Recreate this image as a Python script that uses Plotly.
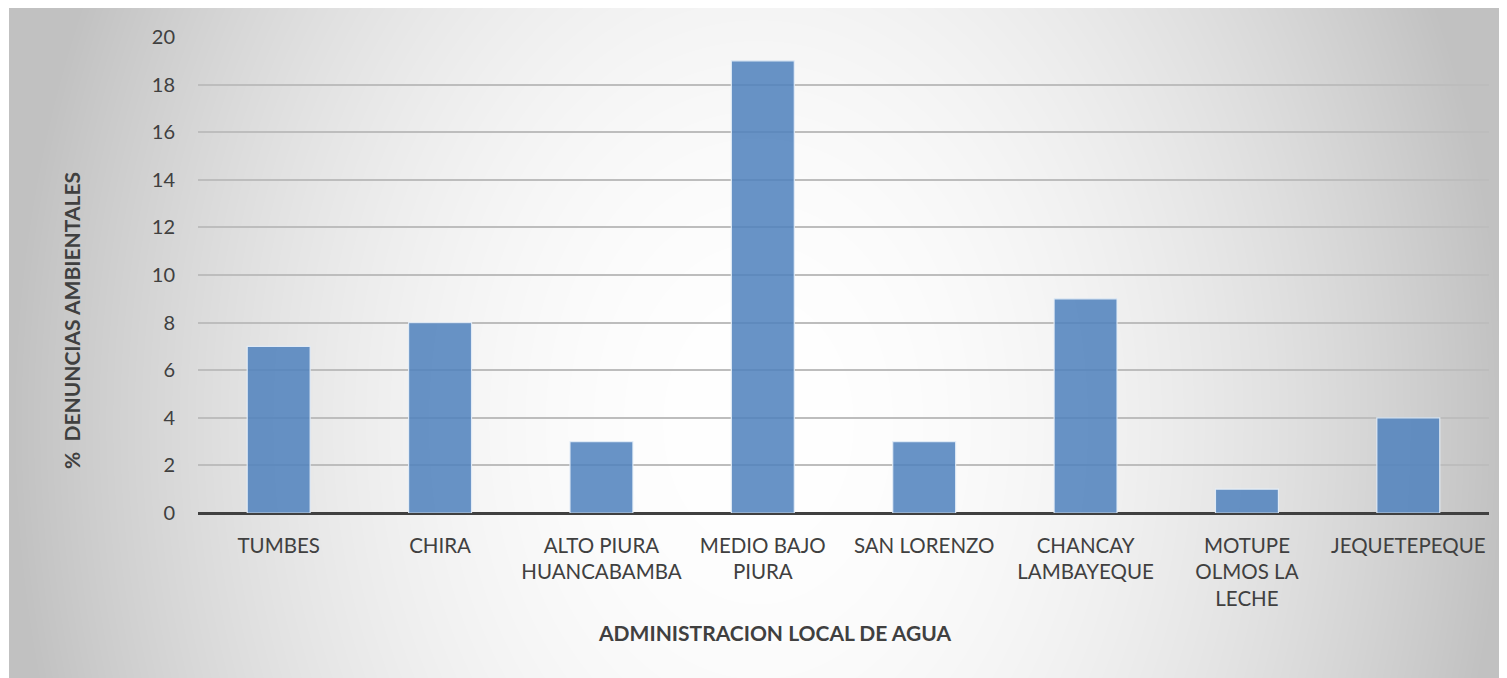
import base64
import struct
import zlib

import numpy as np
import plotly.graph_objects as go

# ---- data ----
categories = [
    "TUMBES",
    "CHIRA",
    "ALTO PIURA<br>HUANCABAMBA",
    "MEDIO BAJO<br>PIURA",
    "SAN LORENZO",
    "CHANCAY<br>LAMBAYEQUE",
    "MOTUPE<br>OLMOS LA<br>LECHE",
    "JEQUETEPEQUE",
]
values = [7, 8, 3, 19, 3, 9, 1, 4]
y_ticks = [0, 2, 4, 6, 8, 10, 12, 14, 16, 18, 20]

x_title = "ADMINISTRACION LOCAL DE AGUA"
y_title = "%  DENUNCIAS AMBIENTALES"

# ---- layout geometry (screen pixels; page has an 8px body margin) ----
OFF = 8
W, H = 1507 - OFF, 678 - OFF
# plot area on screen: x 198..1489, y 37..513
L = 198 - OFF
T = 37 - OFF
R = W - (1489 - OFF)
B = H - (513 - OFF)
PW, PH = W - L - R, H - T - B


def px_x(sx):
    return (sx - OFF - L) / PW


def px_y(sy):
    return (H - B - (sy - OFF)) / PH


# ---- radial gradient background as PNG ----
def gradient_png(w, h):
    xs = np.arange(w)[None, :]
    ys = np.arange(h)[:, None]
    cx, cy = w * 0.50, h * 0.62
    rx, ry = w * 0.50, h * 1.5
    d2 = ((xs - cx) / rx) ** 2 + ((ys - cy) / ry) ** 2
    t = np.clip(d2, 0, 1)
    img = (255 - t * 62).astype(np.uint8)
    raw = b"".join(b"\x00" + img[r].tobytes() for r in range(h))

    def chunk(tag, data):
        c = struct.pack(">I", len(data)) + tag + data
        return c + struct.pack(">I", zlib.crc32(tag + data) & 0xFFFFFFFF)

    png = b"\x89PNG\r\n\x1a\n"
    png += chunk(b"IHDR", struct.pack(">IIBBBBB", w, h, 8, 0, 0, 0, 0))
    png += chunk(b"IDAT", zlib.compress(raw, 9))
    png += chunk(b"IEND", b"")
    return "data:image/png;base64," + base64.b64encode(png).decode()


# background spans screen x 9..1507, y 8..678
bg_x0, bg_y0, bg_x1, bg_y1 = 9, 8, 1507, 678
bg_src = gradient_png(bg_x1 - bg_x0, bg_y1 - bg_y0)

fig = go.Figure()
fig.add_trace(
    go.Bar(
        x=categories,
        y=values,
        marker=dict(
            color="rgba(79,129,189,0.86)",
            line=dict(color="rgba(230,238,248,0.9)", width=1.2),
        ),
        hoverinfo="x+y",
    )
)

font_family = "Lato, 'Open Sans', sans-serif"
tick_color = "#404040"

fig.update_layout(
    width=W,
    height=H,
    margin=dict(l=L, r=R, t=T, b=B),
    paper_bgcolor="white",
    plot_bgcolor="rgba(0,0,0,0)",
    bargap=0.61,
    showlegend=False,
    font=dict(family=font_family, color=tick_color, size=20),
    xaxis=dict(
        type="category",
        range=[-0.5, len(categories) - 0.5],
        showgrid=False,
        showline=False,
        zeroline=False,
        ticks="",
        tickfont=dict(size=20.5, color=tick_color, family=font_family),
        ticklabelstandoff=18,
    ),
    yaxis=dict(
        range=[0, 20],
        tickvals=y_ticks,
        showgrid=True,
        gridcolor="#bdbdbd",
        gridwidth=1.5,
        zeroline=True,
        zerolinecolor="#404040",
        zerolinewidth=3,
        showline=False,
        ticks="",
        tickfont=dict(size=20, color=tick_color, family=font_family),
        ticklabelstandoff=22,
    ),
    images=[
        dict(
            source=bg_src,
            xref="paper",
            yref="paper",
            x=px_x(bg_x0),
            y=px_y(bg_y0),
            sizex=px_x(bg_x1) - px_x(bg_x0),
            sizey=px_y(bg_y0) - px_y(bg_y1),
            xanchor="left",
            yanchor="top",
            sizing="stretch",
            layer="below",
        )
    ],
    annotations=[
        dict(
            text=f"<b>{x_title}</b>",
            xref="paper",
            yref="paper",
            x=px_x(774),
            y=px_y(632),
            showarrow=False,
            xanchor="center",
            yanchor="middle",
            font=dict(size=21, color=tick_color, family=font_family),
        ),
        dict(
            text=f"<b>{y_title}</b>",
            xref="paper",
            yref="paper",
            x=px_x(71),
            y=px_y(321),
            showarrow=False,
            textangle=-90,
            xanchor="center",
            yanchor="middle",
            font=dict(size=21, color=tick_color, family=font_family),
        ),
    ],
)

fig.write_html("out.html")
